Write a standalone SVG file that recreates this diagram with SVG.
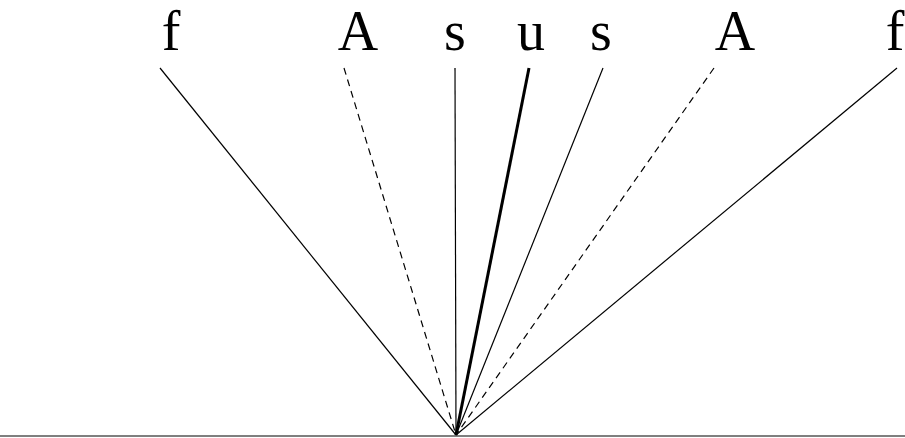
<svg xmlns="http://www.w3.org/2000/svg" width="905" height="438" viewBox="0 0 905 438">
<style>
.lbl{font-family:"Liberation Serif","Times New Roman",serif;font-size:56px;fill:#000;text-anchor:middle}
.ln{stroke:#000;stroke-width:1.2;fill:none}
.dash{stroke-dasharray:7 5}
.thick{stroke-width:3}
</style>
<rect width="905" height="438" fill="#fff"/>
<g id="labels">
<text class="lbl" x="171" y="50">f</text>
<text class="lbl" x="358" y="50">A</text>
<text class="lbl" x="455" y="50">s</text>
<text class="lbl" x="531" y="50">u</text>
<text class="lbl" x="601" y="50">s</text>
<text class="lbl" x="735" y="50">A</text>
<text class="lbl" x="895" y="50">f</text>
</g>
<g id="connectors">
<line class="ln" x1="0" y1="436" x2="905" y2="436" stroke-width="1.5"/>
<line class="ln" x1="160" y1="68" x2="456" y2="435"/>
<line class="ln dash" x1="344" y1="68" x2="456" y2="435"/>
<line class="ln" x1="455" y1="68" x2="456" y2="435"/>
<line class="ln thick" x1="529" y1="68" x2="456" y2="435"/>
<line class="ln" x1="603" y1="68" x2="456" y2="435"/>
<line class="ln dash" x1="714" y1="68" x2="456" y2="435"/>
<line class="ln" x1="897" y1="68" x2="456" y2="435"/>
</g>
</svg>
